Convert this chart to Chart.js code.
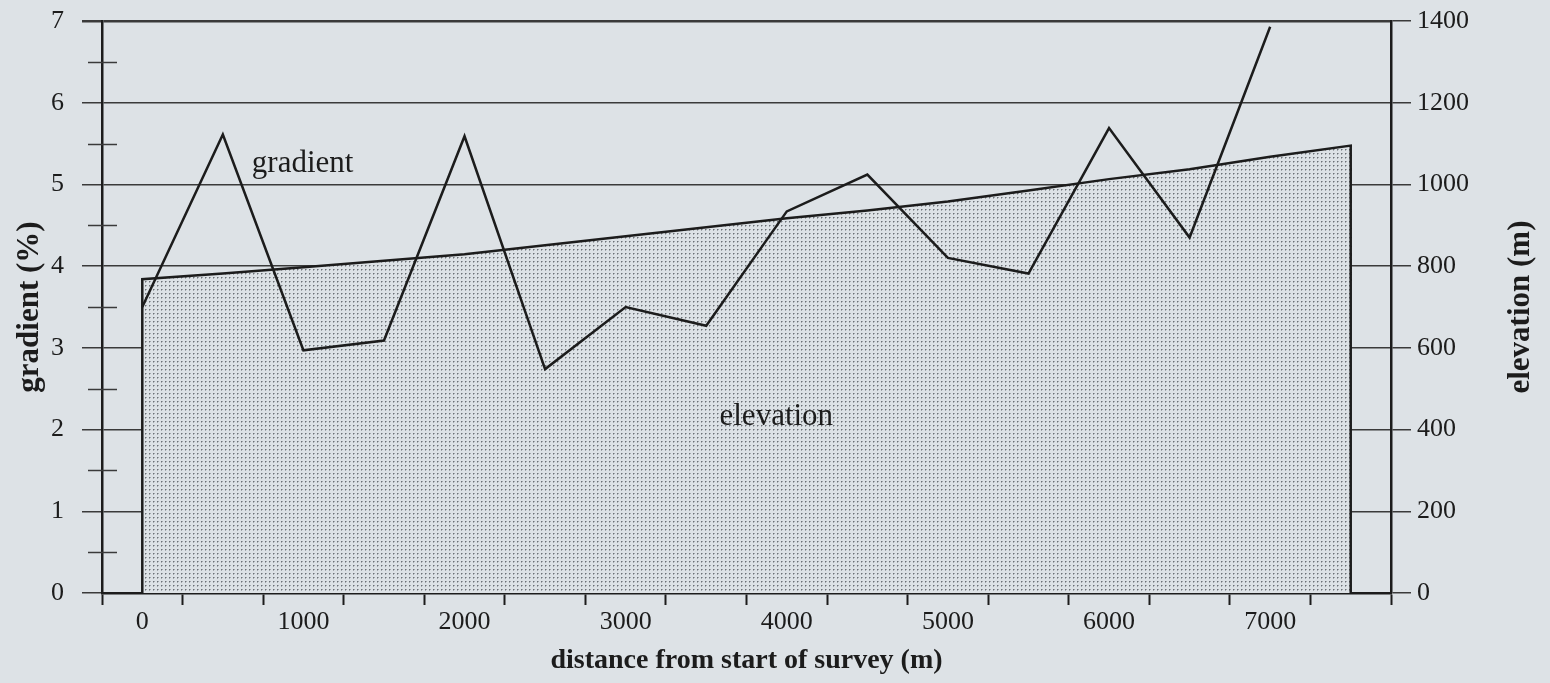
<!DOCTYPE html>
<html>
<head>
<meta charset="utf-8">
<title>Gradient and elevation along the survey</title>
<script src="https://cdn.jsdelivr.net/npm/chart.js@4/dist/chart.umd.min.js"></script>
<style>
  html, body { margin: 0; padding: 0; background: #dde2e6; }
  canvas { display: block; }
</style>
</head>
<body>
<canvas id="survey" width="1550" height="683"></canvas>
<script>
// Survey stations, one every 500 m (m from start)
const stations = [0, 500, 1000, 1500, 2000, 2500, 3000, 3500, 4000, 4500, 5000, 5500, 6000, 6500, 7000, 7500];
// Ground elevation at each station (m)
const elevation = [768, 782, 797, 813, 829, 851, 873, 895, 917, 936, 958, 985, 1013, 1037, 1068, 1095];
// Gradient of each 500 m section, plotted at the section start (%)
const gradient = [3.50, 5.61, 2.97, 3.09, 5.59, 2.74, 3.50, 3.27, 4.67, 5.12, 4.10, 3.91, 5.69, 4.35, 6.93];

// Axis ticks
const distanceLabels = [0, 1000, 2000, 3000, 4000, 5000, 6000, 7000];
const sectionEdges = [-250, 250, 750, 1250, 1750, 2250, 2750, 3250, 3750, 4250, 4750, 5250, 5750, 6250, 6750, 7250, 7750];
const gradientTicks = [0, 1, 2, 3, 4, 5, 6, 7];
const gradientMinorTicks = [0.5, 1.5, 2.5, 3.5, 4.5, 5.5, 6.5];
const elevationTicks = [0, 200, 400, 600, 800, 1000, 1200, 1400];

const PAPER = '#dde2e6';
const INK = '#1c1c1c';
const SERIF = "'Liberation Serif', 'Times New Roman', serif";
const PLOT_TOP = 21;

const canvas = document.getElementById('survey');
const ctx2d = canvas.getContext('2d');

// Fine dot screen used for the area under the elevation profile
function stipple() {
  const tile = document.createElement('canvas');
  tile.width = 4; tile.height = 4;
  const g = tile.getContext('2d');
  g.fillStyle = PAPER; g.fillRect(0, 0, 4, 4);
  g.fillStyle = '#6c7177'; g.fillRect(1, 1, 1, 1);
  g.fillStyle = '#a3a8ad'; g.fillRect(2, 1, 1, 1); g.fillRect(1, 2, 1, 1);
  return ctx2d.createPattern(tile, 'repeat');
}

const gradientPoints = gradient.map((g, i) => ({ x: stations[i], y: g }));
const elevationPoints = [
  { x: stations[0], y: 0 },
  ...elevation.map((e, i) => ({ x: stations[i], y: e })),
  { x: stations[stations.length - 1], y: 0 }
];

const paperPlugin = {
  id: 'paper',
  beforeDraw(chart) {
    const c = chart.ctx;
    c.save();
    c.fillStyle = PAPER;
    c.fillRect(0, 0, chart.width, chart.height);
    c.restore();
  }
};

const extrasPlugin = {
  id: 'extras',
  afterDatasetsDraw(chart) {
    const c = chart.ctx;
    const x = chart.scales.x, y = chart.scales.y, yR = chart.scales.yR;
    c.save();
    c.fillStyle = INK;
    c.font = `31px ${SERIF}`;
    c.textBaseline = 'middle';
    c.textAlign = 'left';
    c.fillText('gradient', x.getPixelForValue(680), y.getPixelForValue(5.25));
    c.textAlign = 'center';
    c.fillText('elevation', x.getPixelForValue(3935), yR.getPixelForValue(430));
    c.restore();
  },
  afterDraw(chart) {
    const c = chart.ctx;
    const y = chart.scales.y, yR = chart.scales.yR;
    const axisX = chart.chartArea.left;
    c.save();
    // half-unit marks across the gradient axis
    c.strokeStyle = '#3a3a3a';
    c.lineWidth = 1.5;
    gradientMinorTicks.forEach(v => {
      const py = Math.round(y.getPixelForValue(v)) + 0.5;
      c.beginPath();
      c.moveTo(axisX - 14, py);
      c.lineTo(axisX + 15, py);
      c.stroke();
    });
    // elevation axis title, reading upward
    c.fillStyle = INK;
    c.font = `bold 31px ${SERIF}`;
    c.textAlign = 'center';
    c.textBaseline = 'middle';
    c.translate(yR.right - 29, (chart.chartArea.top + chart.chartArea.bottom) / 2);
    c.rotate(-Math.PI / 2);
    c.fillText('elevation (m)', 0, 0);
    c.restore();
  }
};

function fitVertical(width) {
  return scale => {
    scale.width = width;
    scale.paddingTop = 0;
    scale.paddingBottom = 0;
  };
}

const chart = new Chart(canvas, {
  type: 'line',
  data: {
    datasets: [
      {
        label: 'gradient',
        data: gradientPoints,
        yAxisID: 'y',
        borderColor: INK,
        borderWidth: 2.5,
        pointRadius: 0,
        tension: 0,
        fill: false,
        order: 0
      },
      {
        label: 'elevation',
        data: elevationPoints,
        yAxisID: 'yR',
        borderColor: INK,
        borderWidth: 2.5,
        backgroundColor: stipple(),
        pointRadius: 0,
        tension: 0,
        fill: 'origin',
        order: 1
      }
    ]
  },
  options: {
    responsive: false,
    animation: false,
    layout: { padding: { top: PLOT_TOP, right: 0, bottom: 0, left: 0 } },
    plugins: { legend: { display: false }, tooltip: { enabled: false } },
    scales: {
      x: {
        type: 'linear',
        min: -250,
        max: 7750,
        afterBuildTicks(scale) {
          scale.ticks = [...sectionEdges, ...distanceLabels].sort((a, b) => a - b).map(v => ({ value: v }));
        },
        afterFit(scale) {
          scale.height = 90;
          scale.paddingLeft = 0;
          scale.paddingRight = 0;
        },
        ticks: {
          autoSkip: false,
          maxRotation: 0,
          minRotation: 0,
          padding: 2,
          color: INK,
          font: { family: SERIF, size: 26 },
          callback: v => distanceLabels.includes(v) ? String(v) : ''
        },
        grid: {
          drawOnChartArea: false,
          drawTicks: true,
          tickLength: 12,
          tickWidth: 2,
          tickColor: ctx => (ctx.tick && sectionEdges.includes(ctx.tick.value)) ? INK : 'rgba(0,0,0,0)'
        },
        border: { display: true, color: INK, width: 2.5 },
        title: {
          display: true,
          text: 'distance from start of survey (m)',
          color: INK,
          font: { family: SERIF, size: 28, weight: 'bold' },
          padding: { top: 0, bottom: 5 }
        }
      },
      y: {
        position: 'left',
        min: 0,
        max: 7,
        afterBuildTicks(scale) { scale.ticks = gradientTicks.map(v => ({ value: v })); },
        afterFit: fitVertical(102),
        ticks: {
          padding: 18,
          color: INK,
          font: { family: SERIF, size: 26 },
          callback: v => String(v)
        },
        grid: {
          color: '#3a3a3a',
          lineWidth: ctx => (ctx.tick && ctx.tick.value === 7) ? 2.5 : 1.5,
          tickLength: 20
        },
        border: { display: true, color: INK, width: 2.5 },
        title: {
          display: true,
          text: 'gradient (%)',
          color: INK,
          font: { family: SERIF, size: 31, weight: 'bold' },
          padding: { top: 11, bottom: 0 }
        }
      },
      yR: {
        position: 'right',
        min: 0,
        max: 1400,
        afterBuildTicks(scale) { scale.ticks = elevationTicks.map(v => ({ value: v })); },
        afterFit: fitVertical(159),
        ticks: {
          padding: 6,
          color: INK,
          font: { family: SERIF, size: 26 },
          callback: v => String(v)
        },
        grid: {
          drawOnChartArea: false,
          color: '#3a3a3a',
          lineWidth: 1.5,
          tickLength: 20
        },
        border: { display: true, color: INK, width: 2.5 },
        title: { display: false }
      }
    }
  },
  plugins: [paperPlugin, extrasPlugin]
});

// keep the top of the plotting area at a fixed height below the canvas edge
const excess = chart.chartArea.top - PLOT_TOP;
if (Math.abs(excess) > 0.5) {
  chart.options.layout.padding.top = Math.max(0, PLOT_TOP - excess);
  chart.update();
}
</script>
</body>
</html>
